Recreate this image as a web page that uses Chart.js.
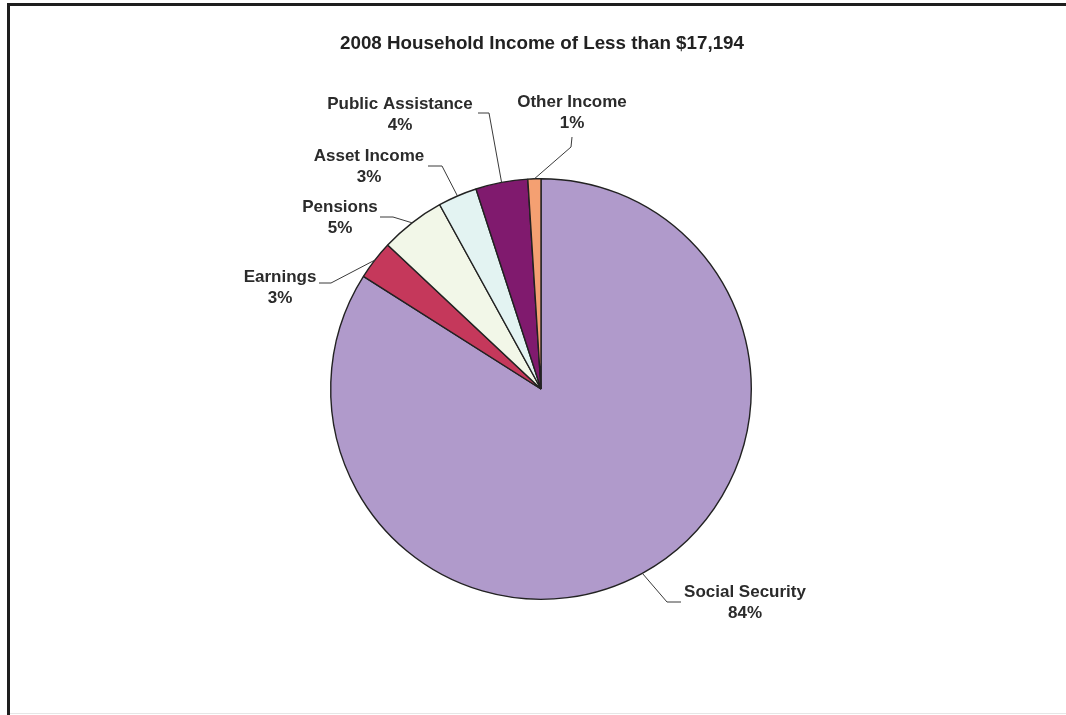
<!DOCTYPE html>
<html>
<head>
<meta charset="utf-8">
<title>2008 Household Income of Less than $17,194</title>
<script src="https://cdn.jsdelivr.net/npm/chart.js@4/dist/chart.umd.min.js"></script>
<style>
  html, body { margin: 0; padding: 0; background: #ffffff; }
  #wrap { position: relative; width: 1066px; height: 715px; overflow: hidden; }
  canvas { display: block; }
</style>
</head>
<body>
<div id="wrap"><canvas id="c" width="1066" height="715"></canvas></div>
<script>
// Income sources, in clockwise order from 12 o'clock
const categories = ["Social Security", "Earnings", "Pensions", "Asset Income", "Public Assistance", "Other Income"];
// Share of income (%)
const shares = [84, 3, 5, 3, 4, 1];
const chartTitle = "2008 Household Income of Less than $17,194";

const sliceColors = ["#B09ACB", "#C5385B", "#F2F7E8", "#E3F3F2", "#801A6E", "#F4A072"];

// Where each callout sits: text centre, elbow of the leader line, and where the leader ends
const callouts = [
  { tx: 745, ty: 592, elbow: [667, 602], end: [681, 602] },
  { tx: 280, ty: 277, elbow: [331, 283], end: [319, 283] },
  { tx: 340, ty: 207, elbow: [393, 217], end: [380, 217] },
  { tx: 369, ty: 156, elbow: [442, 166], end: [428, 166] },
  { tx: 400, ty: 104, elbow: [489, 113], end: [478, 113] },
  { tx: 572, ty: 102, elbow: [571, 147], end: [572, 137] }
];

const FONT = '"Liberation Sans", Arial, Helvetica, sans-serif';

// Frame, title and callouts
const decorations = {
  id: 'decorations',
  beforeDraw(chart) {
    const ctx = chart.ctx;
    ctx.save();
    ctx.fillStyle = '#ffffff';
    ctx.fillRect(0, 0, chart.width, chart.height);
    // frame lines
    ctx.fillStyle = '#1e1e1e';
    ctx.fillRect(7, 3, chart.width - 7, 3);
    ctx.fillRect(7, 3, 3, chart.height - 3);
    ctx.fillStyle = '#e6e6e6';
    ctx.fillRect(10, chart.height - 2, chart.width - 10, 1);
    // title
    ctx.fillStyle = '#222222';
    ctx.font = 'bold 18.8px ' + FONT;
    ctx.textAlign = 'center';
    ctx.textBaseline = 'middle';
    ctx.fillText(chartTitle, 542, 44);
    ctx.restore();
  },
  afterDatasetsDraw(chart) {
    const ctx = chart.ctx;
    const meta = chart.getDatasetMeta(0);
    ctx.save();
    meta.data.forEach((arc, i) => {
      const p = arc.getProps(['x', 'y', 'startAngle', 'endAngle', 'outerRadius'], true);
      const mid = (p.startAngle + p.endAngle) / 2;
      const ax = p.x + Math.cos(mid) * p.outerRadius;
      const ay = p.y + Math.sin(mid) * p.outerRadius;
      const c = callouts[i];
      ctx.strokeStyle = '#3a3a3a';
      ctx.lineWidth = 1;
      ctx.beginPath();
      ctx.moveTo(ax, ay);
      ctx.lineTo(c.elbow[0], c.elbow[1]);
      ctx.lineTo(c.end[0], c.end[1]);
      ctx.stroke();
      ctx.fillStyle = '#2b2b2b';
      ctx.font = 'bold 17px ' + FONT;
      ctx.textAlign = 'center';
      ctx.textBaseline = 'middle';
      ctx.fillText(categories[i], c.tx, c.ty);
      ctx.fillText(shares[i] + '%', c.tx, c.ty + 21);
    });
    ctx.restore();
  }
};

new Chart(document.getElementById('c'), {
  type: 'pie',
  data: {
    labels: categories,
    datasets: [{
      data: shares,
      backgroundColor: sliceColors,
      borderColor: '#222222',
      borderWidth: 1.4
    }]
  },
  options: {
    responsive: false,
    animation: false,
    events: [],
    layout: { padding: { left: 330, right: 314, top: 178, bottom: 115 } },
    plugins: {
      legend: { display: false },
      tooltip: { enabled: false },
      title: { display: false }
    }
  },
  plugins: [decorations]
});
</script>
</body>
</html>
